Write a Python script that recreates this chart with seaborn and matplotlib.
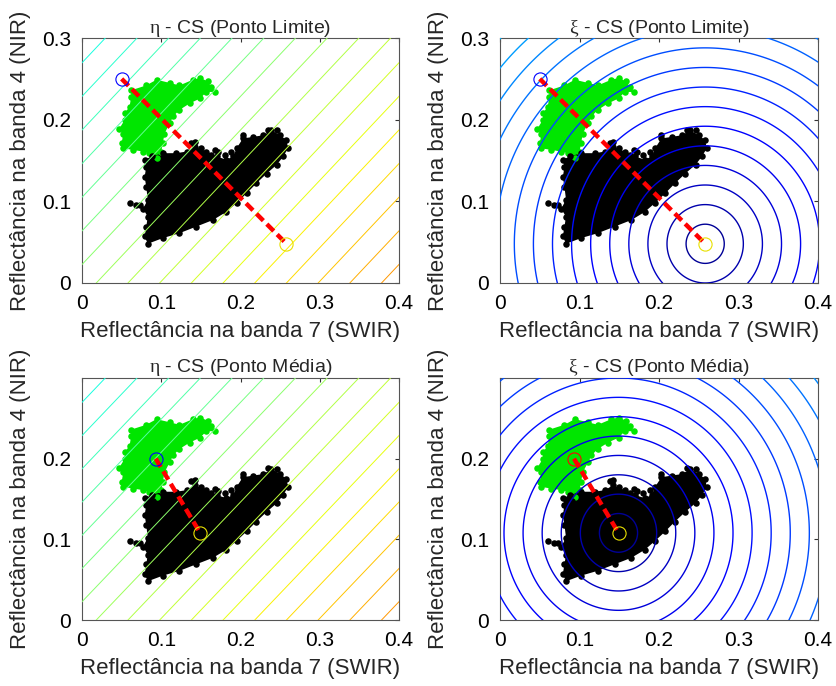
import numpy as np
import matplotlib
matplotlib.use("Agg")
from matplotlib import pyplot as plt
import seaborn as sns

# cloud outlines (band 7 = x, band 4 = y)
green_x = [0.062, 0.081, 0.094, 0.111, 0.123, 0.140, 0.149, 0.159, 0.163, 0.168, 0.157, 0.149,
           0.136, 0.123, 0.115, 0.111, 0.104, 0.102, 0.100, 0.094, 0.085, 0.077, 0.064, 0.052,
           0.050, 0.052, 0.047, 0.054, 0.054, 0.060, 0.062]
green_y = [0.236, 0.242, 0.249, 0.245, 0.242, 0.249, 0.251, 0.247, 0.240, 0.234, 0.234, 0.226,
           0.220, 0.212, 0.204, 0.196, 0.183, 0.171, 0.161, 0.153, 0.159, 0.161, 0.163, 0.165,
           0.171, 0.183, 0.189, 0.200, 0.208, 0.216, 0.228]

black_x = [0.079, 0.088, 0.102, 0.119, 0.132, 0.142, 0.157, 0.170, 0.182, 0.191, 0.195, 0.203,
           0.216, 0.229, 0.239, 0.250, 0.258, 0.260, 0.254, 0.246, 0.233, 0.220, 0.208, 0.195,
           0.182, 0.165, 0.144, 0.123, 0.102, 0.083, 0.079, 0.081, 0.083, 0.077, 0.083, 0.081,
           0.079, 0.081]
black_y = [0.151, 0.155, 0.159, 0.159, 0.161, 0.167, 0.161, 0.155, 0.151, 0.155, 0.165, 0.177,
           0.179, 0.181, 0.187, 0.181, 0.175, 0.165, 0.155, 0.145, 0.134, 0.122, 0.110, 0.098,
           0.087, 0.077, 0.069, 0.061, 0.055, 0.048, 0.057, 0.069, 0.081, 0.091, 0.102, 0.118,
           0.130, 0.142]

# loose points outside the dense part
stray_x = [0.060, 0.068, 0.142, 0.138, 0.203, 0.235, 0.246, 0.073, 0.090,
           0.163, 0.172, 0.180, 0.188, 0.168, 0.150]
stray_y = [0.098, 0.096, 0.173, 0.172, 0.181, 0.188, 0.187, 0.096, 0.147,
           0.157, 0.160, 0.157, 0.161, 0.163, 0.165]

# end points of the red segment
limite_start = (0.050, 0.250)
limite_end = (0.258, 0.048)
media_start = (0.093, 0.200)
media_end = (0.149, 0.108)

tick_x = [0, 0.1, 0.2, 0.3, 0.4]
tick_lbl_x = ["0", "0.1", "0.2", "0.3", "0.4"]

sns.set_style("white")
plt.rcParams["font.family"] = ["Liberation Sans", "DejaVu Sans"]
plt.rcParams["mathtext.fontset"] = "custom"
plt.rcParams["mathtext.rm"] = "Liberation Serif"

fig = plt.figure(figsize=(8.37, 6.86), dpi=100)
positions = [[0.098, 0.5875, 0.3787, 0.357], [0.5974, 0.5875, 0.380, 0.357],
             [0.098, 0.0962, 0.3787, 0.3528], [0.5974, 0.0962, 0.380, 0.3528]]
titles = [r"$\mathrm{\eta}$ - CS (Ponto Limite)", r"$\mathrm{\xi}$ - CS (Ponto Limite)",
          r"$\mathrm{\eta}$ - CS (Ponto Média)", r"$\mathrm{\xi}$ - CS (Ponto Média)"]

gx, gy = np.meshgrid(np.linspace(-0.05, 0.45, 400), np.linspace(-0.05, 0.35, 400))

# eta: position along the limite direction
u = np.array([limite_end[0] - limite_start[0], limite_end[1] - limite_start[1]])
u = u / np.linalg.norm(u)
eta = (gx - limite_start[0]) * u[0] + (gy - limite_start[1]) * u[1]
eta0 = (0.018 - limite_start[0]) * u[0] + (0 - limite_start[1]) * u[1]
eta_levels = eta0 + 0.04 * u[0] * np.arange(-12, 14)

for i, pos in enumerate(positions):
    ax = fig.add_axes(pos)
    media = i >= 2
    p0, p1 = (media_start, media_end) if media else (limite_start, limite_end)

    ax.fill(green_x, green_y, color="#00e600", lw=0, zorder=1)
    ax.fill(black_x, black_y, color="black", lw=0, zorder=1)
    sns.scatterplot(x=green_x, y=green_y, color="#00e600", s=22, linewidth=0, ax=ax, zorder=2)
    sns.scatterplot(x=black_x, y=black_y, color="black", s=22, linewidth=0, ax=ax, zorder=2)
    sns.scatterplot(x=stray_x, y=stray_y, color="black", s=22, linewidth=0, ax=ax, zorder=2)

    if i % 2 == 0:
        ax.contour(gx, gy, eta, levels=eta_levels, cmap="jet", vmin=-0.515, vmax=0.72,
                   linewidths=0.7, zorder=3)
    else:
        dist = np.hypot(gx - p1[0], gy - p1[1])
        ax.contour(gx, gy, dist, levels=0.024 * np.arange(1, 26), cmap="jet", vmin=0, vmax=1.2,
                   linewidths=1.0, zorder=3)

    sns.lineplot(x=[p0[0], p1[0]], y=[p0[1], p1[1]], sort=False, color="red", lw=3.2,
                 dashes=(2.2, 1.1), ax=ax, zorder=4)
    c0 = "red" if i == 3 else "blue"
    ax.plot(p0[0], p0[1], "o", mfc="none", mec=c0, ms=9.5, mew=0.8, zorder=5)
    ax.plot(p1[0], p1[1], "o", mfc="none", mec="#e8e000", ms=9.5, mew=0.8, zorder=5)

    ax.set_xlim(0, 0.4)
    ax.set_ylim(0, 0.3)
    ax.set_xticks(tick_x)
    ax.set_xticklabels(tick_lbl_x)
    if media:
        ax.set_yticks([0, 0.1, 0.2])
        ax.set_yticklabels(["0", "0.1", "0.2"])
    else:
        ax.set_yticks([0, 0.1, 0.2, 0.3])
        ax.set_yticklabels(["0", "0.1", "0.2", "0.3"])
    ax.tick_params(direction="in", length=3, width=0.8, top=True, right=True,
                   labelsize=15, pad=8, colors="#333333", labelcolor="black")
    for s in ax.spines.values():
        s.set_color("#555555")
        s.set_linewidth(0.8)
    ax.set_xlabel("Reflectância na banda 7 (SWIR)", fontsize=16, labelpad=6)
    ax.set_ylabel("Reflectância na banda 4 (NIR)", fontsize=16, labelpad=8)
    ax.set_title(titles[i], fontsize=14, pad=4)

fig.savefig("out.png", dpi=100)
